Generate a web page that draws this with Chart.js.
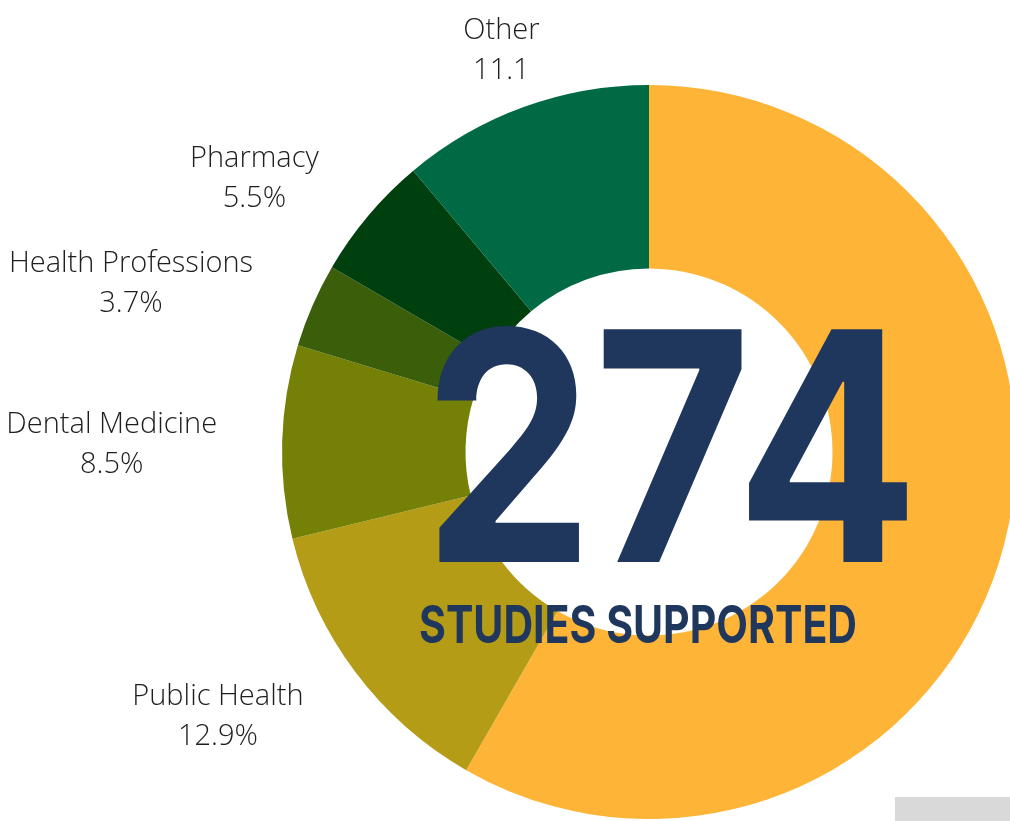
<!DOCTYPE html>
<html>
<head>
<meta charset="utf-8">
<script src="https://cdn.jsdelivr.net/npm/chart.js@4.4.1/dist/chart.umd.min.js"></script>
<style>
  html, body { margin: 0; padding: 0; background: #ffffff; overflow: hidden; width: 1010px; height: 821px; }
  #wrap { position: absolute; left: 0; top: 0; width: 1030px; height: 821px; }
  #note { position: absolute; left: 895px; top: 797px; width: 115px; height: 24px; background: #d9d9d9; }
</style>
</head>
<body>
<div id="wrap"><canvas id="c" width="1030" height="821"></canvas></div>
<div id="note"></div>
<script>
// ---- data ----
const categories = ["", "Public Health", "Dental Medicine", "Health Professions", "Pharmacy", "Other"];
const shares = [58.3, 12.9, 8.5, 3.7, 5.5, 11.1];
const valueLabels = ["", "12.9%", "8.5%", "3.7%", "5.5%", "11.1"];
const sliceColors = ["#FEB436", "#B49C16", "#748006", "#3A5E0A", "#00400E", "#006A45"];
const totalStudies = "274";
const subtitle = "STUDIES SUPPORTED";

const navy = "#1F365D";

const outsideLabels = {
  id: "outsideLabels",
  afterDatasetsDraw(chart) {
    const ctx = chart.ctx;
    const meta = chart.getDatasetMeta(0);
    ctx.save();
    ctx.font = "300 29px 'Open Sans'";
    ctx.fillStyle = "#1e1e1e";
    ctx.textBaseline = "middle";
    meta.data.forEach((arc, i) => {
      if (!categories[i]) return;
      const p = arc.getProps(["x", "y", "startAngle", "endAngle", "outerRadius"], true);
      const mid = (p.startAngle + p.endAngle) / 2;
      const r = p.outerRadius + 65;
      const cx = Math.cos(mid), sy = Math.sin(mid);
      const ax = p.x + r * cx;
      const ay = p.y + r * sy + 5;
      let align = "center";
      if (cx < -0.5) align = "right"; else if (cx > 0.5) align = "left";
      const w1 = ctx.measureText(categories[i]).width;
      const w2 = ctx.measureText(valueLabels[i]).width;
      const bw = Math.max(w1, w2);
      let bx;
      if (align === "right") bx = ax - bw / 2;
      else if (align === "left") bx = ax + bw / 2;
      else bx = ax;
      ctx.textAlign = "center";
      ctx.fillText(categories[i], bx, ay - 20);
      ctx.fillText(valueLabels[i], bx, ay + 20);
    });
    ctx.restore();
  }
};

function drawFitted(ctx, text, font, cx, baseline, targetW) {
  ctx.font = font;
  const w = ctx.measureText(text).width;
  const s = targetW / w;
  ctx.save();
  ctx.translate(cx, baseline);
  ctx.scale(s, 1);
  ctx.textAlign = "center";
  ctx.textBaseline = "alphabetic";
  ctx.fillText(text, 0, 0);
  ctx.restore();
}

const centerText = {
  id: "centerText",
  afterDraw(chart) {
    const ctx = chart.ctx;
    const arc = chart.getDatasetMeta(0).data[0];
    const cx = arc.x, cy = arc.y;
    ctx.save();
    ctx.fillStyle = navy;
    drawFitted(ctx, totalStudies, "700 320px Inter", cx + 22, cy + 110, 496);
    drawFitted(ctx, subtitle, "700 52px Inter", cx - 11, cy + 191, 438);
    ctx.restore();
  }
};

new Chart(document.getElementById("c"), {
  type: "doughnut",
  data: {
    labels: categories,
    datasets: [{
      data: shares,
      backgroundColor: sliceColors,
      borderWidth: 0
    }]
  },
  options: {
    responsive: false,
    animation: false,
    devicePixelRatio: 1,
    cutout: "50%",
    layout: { padding: { left: 268, right: 0, top: 85, bottom: 2 } },
    plugins: {
      legend: { display: false },
      tooltip: { enabled: false }
    }
  },
  plugins: [outsideLabels, centerText]
});
</script>
</body>
</html>
